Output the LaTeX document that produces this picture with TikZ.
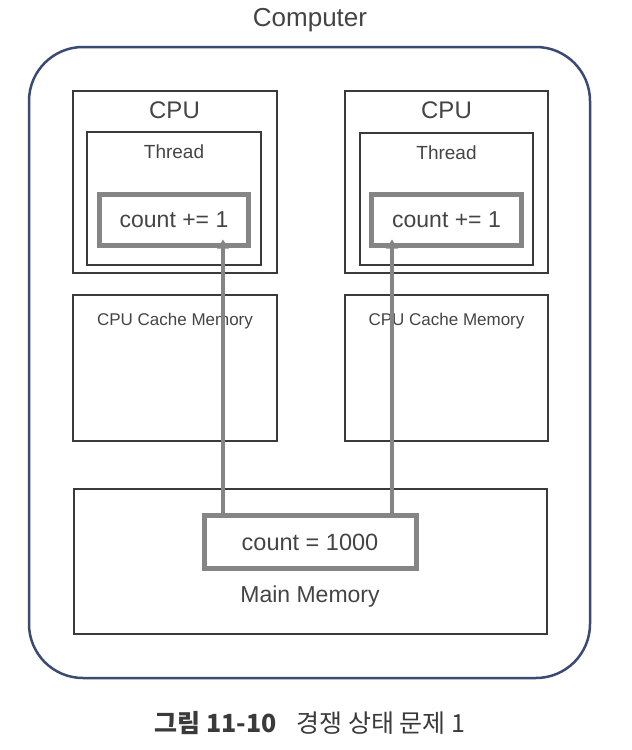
\documentclass[tikz,border=0pt]{standalone}
\usepackage{fontspec}
\setmainfont{Liberation Sans}
\newfontfamily\krfont{Noto Sans CJK KR}
\usetikzlibrary{arrows.meta}
\definecolor{shellc}{HTML}{3B4A72}
\definecolor{boxc}{HTML}{3A3A3A}
\definecolor{hotc}{HTML}{858585}
\definecolor{txtc}{HTML}{444444}
\newcommand{\fsz}[1]{\fontsize{#1}{#1}\selectfont}
\begin{document}
\begin{tikzpicture}[x=1pt,y=-1pt,
  box/.style={draw=boxc, line width=2pt, inner sep=0pt, outer sep=0pt},
  hot/.style={draw=hotc, line width=5pt, inner sep=0pt, outer sep=0pt,
              text=txtc, font=\fsz{23}},
  lbl/.style={text=txtc, inner sep=0pt},
  link/.style={draw=hotc, line width=4pt,
               -{Triangle[length=9pt,width=11pt]}, shorten >=-6pt}]
  \useasboundingbox (0,0) rectangle (632,750);

  % computer enclosure
  \node[draw=shellc, line width=2.5pt, rounded corners=54pt, inner sep=0pt,
        minimum width=561pt, minimum height=631pt] (pc) at (309.5,362.5) {};
  \node[lbl, font=\fsz{26}] (pcname) at (310,20) {Computer};

  % left processor
  \node[box, minimum width=204pt, minimum height=182pt] (cpuA) at (174.5,182) {};
  \node[lbl, font=\fsz{24}] (cpuAname) at (174.5,110) {CPU};
  \node[box, minimum width=174pt, minimum height=133pt] (thrA) at (174,198.5) {};
  \node[lbl, font=\fsz{19}] (thrAname) at (174,152) {Thread};
  \node[hot, minimum width=149pt, minimum height=51pt] (incA) at (174,220) {count += 1};
  \node[box, minimum width=204pt, minimum height=146pt] (cacheA) at (175,368) {};
  \node[lbl, font=\fsz{17}] (cacheAname) at (175,321) {CPU Cache Memory};

  % right processor
  \node[box, minimum width=203pt, minimum height=182pt] (cpuB) at (446.5,182) {};
  \node[lbl, font=\fsz{24}] (cpuBname) at (446.5,110) {CPU};
  \node[box, minimum width=173pt, minimum height=132pt] (thrB) at (446.5,199) {};
  \node[lbl, font=\fsz{19}] (thrBname) at (446.5,153) {Thread};
  \node[hot, minimum width=150pt, minimum height=51pt] (incB) at (446.5,220) {count += 1};
  \node[box, minimum width=203pt, minimum height=146pt] (cacheB) at (446.5,368) {};
  \node[lbl, font=\fsz{17}] (cacheBname) at (446.5,321) {CPU Cache Memory};

  % main memory
  \node[box, minimum width=473pt, minimum height=145pt] (mem) at (310,561.5) {};
  \node[hot, minimum width=212pt, minimum height=53pt, font=\fsz{23.5}] (cnt) at (310,542) {count = 1000};
  \node[lbl, font=\fsz{23}] (memname) at (310,597) {Main Memory};

  % reads of the shared counter
  \coordinate (colA) at (223,0);
  \coordinate (colB) at (392,0);
  \draw[link] (cnt.north -| colA) -- (incA.south -| colA);
  \draw[link] (cnt.north -| colB) -- (incB.south -| colB);

  % caption
  \node[text=boxc, inner sep=0pt, font=\krfont\fsz{25}] (caption) at (310,723)
    {{\bfseries 그림 11-10}\hspace{0.8em}경쟁 상태 문제 1};
\end{tikzpicture}
\end{document}
